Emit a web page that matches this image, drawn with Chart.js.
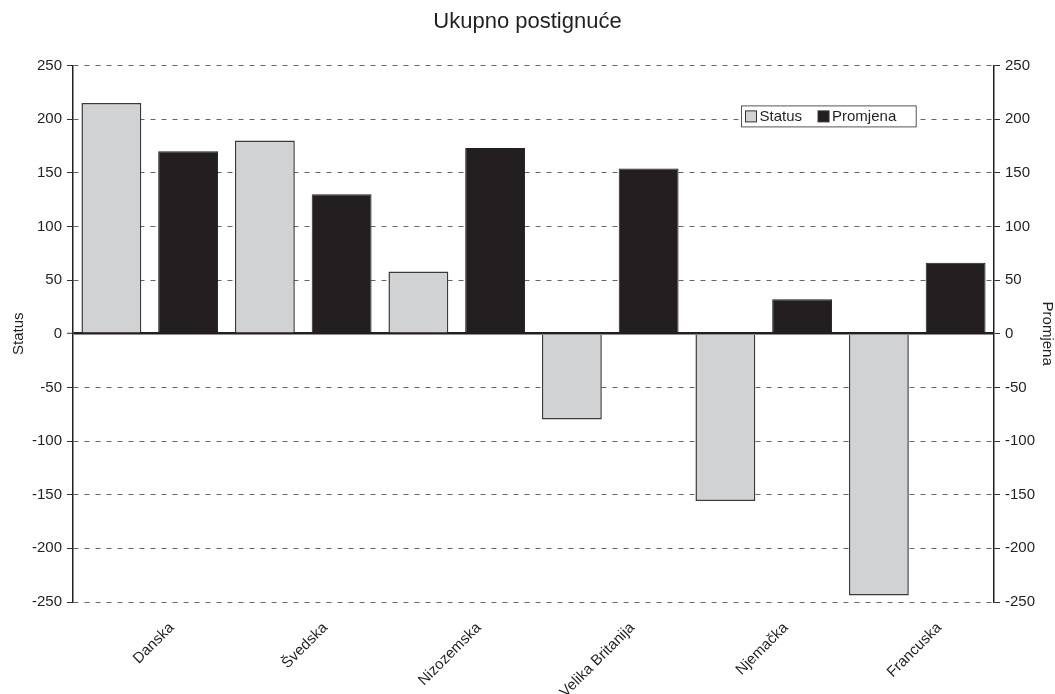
<!DOCTYPE html>
<html>
<head>
<meta charset="utf-8">
<script src="https://cdn.jsdelivr.net/npm/chart.js@4/dist/chart.umd.min.js"></script>
<style>
html,body{margin:0;padding:0;background:#fff;}
#wrap{width:1055px;height:694px;position:relative;}
</style>
</head>
<body>
<div id="wrap"><canvas id="c" width="1055" height="694"></canvas></div>
<script>
const categories = ['Danska', 'Švedska', 'Nizozemska', 'Velika Britanija', 'Njemačka', 'Francuska'];
const statusValues = [215, 180, 58, -80, -156, -244];
const promjenaValues = [170, 130, 173, 154, 32, 66];
const yTicks = [-250, -200, -150, -100, -50, 0, 50, 100, 150, 200, 250];

const FONT = "'Liberation Sans', Arial, Helvetica, sans-serif";
const TXT = '#231f20';

const legendPlugin = {
  id: 'insideLegend',
  afterDraw(chart) {
    const ctx = chart.ctx;
    const area = chart.chartArea;
    ctx.save();
    ctx.font = '15px ' + FONT;
    const sq = 11, padL = 4, gapSqTxt = 3, gapItems = 16, padR = 20, h = 21;
    const items = chart.data.datasets.map(d => ({label: d.label, fill: d.backgroundColor, stroke: d.borderColor}));
    let w = padL;
    items.forEach((it, i) => {
      w += sq + gapSqTxt + ctx.measureText(it.label).width;
      if (i < items.length - 1) w += gapItems;
    });
    w += padR;
    const right = area.right - 78;
    const left = Math.round(right - w) + 0.5;
    const top = area.top + 40.5;
    ctx.fillStyle = '#fff';
    ctx.fillRect(left, top, w, h);
    ctx.strokeStyle = '#555';
    ctx.lineWidth = 1;
    ctx.strokeRect(left, top, w, h);
    let x = left + padL;
    const cy = top + h / 2;
    ctx.textBaseline = 'middle';
    ctx.textAlign = 'left';
    items.forEach((it, i) => {
      ctx.fillStyle = it.fill;
      ctx.fillRect(x, cy - sq / 2, sq, sq);
      ctx.strokeStyle = '#333';
      ctx.strokeRect(x, cy - sq / 2, sq, sq);
      x += sq + gapSqTxt;
      ctx.fillStyle = TXT;
      ctx.fillText(it.label, x, cy + 0.5);
      x += ctx.measureText(it.label).width + gapItems;
    });
    ctx.restore();
  }
};

new Chart(document.getElementById('c'), {
  type: 'bar',
  data: {
    labels: categories,
    datasets: [
      {label: 'Status', data: statusValues, backgroundColor: '#d1d2d4', borderColor: '#3a3a3a', borderWidth: 1.5, yAxisID: 'y'},
      {label: 'Promjena', data: promjenaValues, backgroundColor: '#231f20', borderColor: '#231f20', borderWidth: 1, yAxisID: 'y'}
    ]
  },
  options: {
    responsive: false,
    animation: false,
    devicePixelRatio: 1,
    events: [],
    layout: {padding: 0},
    datasets: {bar: {categoryPercentage: 1, barPercentage: 0.78}},
    plugins: {
      legend: {display: false},
      tooltip: {enabled: false},
      title: {
        display: true,
        text: 'Ukupno postignuće',
        color: TXT,
        font: {family: FONT, size: 22, weight: 'normal', lineHeight: 1.2},
        padding: {top: 9, bottom: 30}
      }
    },
    scales: {
      x: {
        grid: {display: false},
        border: {display: false},
        afterFit: s => { s.height = 92; },
        ticks: {
          autoSkip: false,
          maxRotation: 45,
          minRotation: 45,
          padding: 9,
          labelOffset: 22,
          color: TXT,
          font: {family: FONT, size: 15}
        }
      },
      y: {
        position: 'left',
        min: -250, max: 250,
        afterFit: s => { s.width = 73; },
        afterBuildTicks: s => { s.ticks = yTicks.map(v => ({value: v})); },
        ticks: {stepSize: 50, padding: 5, color: TXT, font: {family: FONT, size: 15}},
        grid: {
          color: c => (c.tick && c.tick.value === 0) ? '#231f20' : '#666',
          lineWidth: c => (c.tick && c.tick.value === 0) ? 2.5 : 1,
          drawTicks: true,
          tickLength: 6,
          tickColor: '#333',
          tickWidth: 1,
          tickBorderDash: []
        },
        border: {
          display: true, color: '#231f20', width: 1.5,
          dash: c => (c.tick && c.tick.value === 0) ? [] : [5, 6]
        },
        title: {display: true, text: 'Status', color: TXT, font: {family: FONT, size: 15, lineHeight: 1}, padding: {top: 11, bottom: 0}}
      },
      y2: {
        position: 'right',
        min: -250, max: 250,
        afterFit: s => { s.width = 61; },
        afterBuildTicks: s => { s.ticks = yTicks.map(v => ({value: v})); },
        ticks: {stepSize: 50, padding: 5, color: TXT, font: {family: FONT, size: 15}},
        grid: {drawOnChartArea: false, drawTicks: true, tickLength: 6, tickColor: '#333', tickWidth: 1, tickBorderDash: []},
        border: {display: true, color: '#231f20', width: 1.5},
        title: {display: true, text: 'Promjena', color: TXT, font: {family: FONT, size: 15, lineHeight: 1}, padding: {top: 0, bottom: 0}}
      }
    }
  },
  plugins: [legendPlugin]
});
</script>
</body>
</html>
